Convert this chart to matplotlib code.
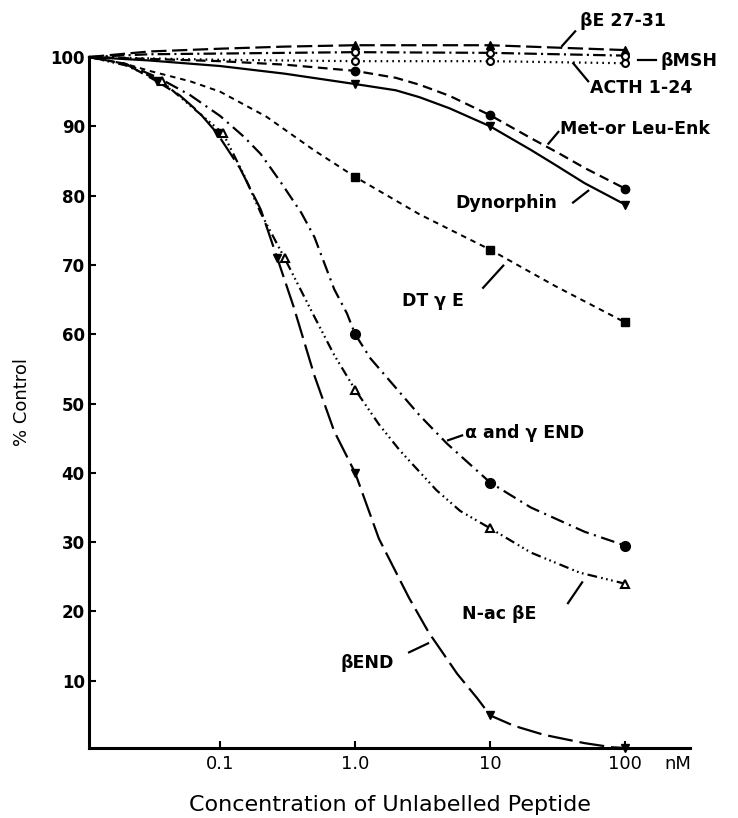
import numpy as np
import matplotlib
matplotlib.use("Agg")
import matplotlib.pyplot as plt

plt.rcParams['font.family'] = ['DejaVu Sans']
plt.rcParams['lines.scale_dashes'] = False

# curve traces (nM, % control)
be2731_x = [0.0107, 0.03, 0.1, 0.3, 1, 10, 100]
be2731_y = [100, 100.8, 101.2, 101.5, 101.7, 101.7, 101.0]
bmsh_x = [0.0107, 0.03, 0.1, 0.3, 1, 10, 100]
bmsh_y = [100, 100.4, 100.5, 100.6, 100.7, 100.6, 100.2]
acth_x = [0.0107, 0.03, 0.1, 0.3, 1, 10, 100]
acth_y = [100, 99.8, 99.6, 99.5, 99.4, 99.4, 99.1]
enk_x = [0.0107, 0.1, 0.3, 1, 2, 3, 5, 10, 20, 33, 50, 100]
enk_y = [100, 99.4, 98.9, 98, 97, 96, 94.4, 91.6, 88.3, 86, 84, 81]
dyn_x = [0.0107, 0.03, 0.1, 0.3, 1, 2, 3, 5, 10, 20, 30, 50, 100]
dyn_y = [100, 99.5, 98.7, 97.6, 96.1, 95.2, 94.2, 92.6, 90, 86.6, 84.5, 81.8, 78.7]
dtge_x = [0.0107, 0.02, 0.03, 0.06, 0.1, 0.22, 0.5, 1, 3, 10, 30, 100]
dtge_y = [100, 99, 98, 96.5, 95, 91.4, 86.5, 82.7, 77.3, 72.2, 67, 61.7]
ag_x = [0.0107, 0.02, 0.035, 0.06, 0.1, 0.15, 0.2, 0.28, 0.4, 0.5, 0.7, 0.87, 1,
        1.3, 1.82, 3, 4.8, 10, 20, 50, 100]
ag_y = [100, 99, 97, 94.5, 91.5, 88.5, 86, 82, 77.5, 74, 66.5, 63, 60,
        56.5, 53.2, 48.3, 44.2, 38.6, 35, 31.5, 29.5]
nac_x = [0.0107, 0.02, 0.037, 0.06, 0.105, 0.15, 0.2, 0.3, 0.5, 0.7, 1,
         1.5, 2.15, 4, 6, 10, 20, 46, 100]
nac_y = [100, 98.8, 96.5, 93, 89, 83, 77.5, 71, 62.5, 57, 52,
         47, 43.2, 37.5, 34.5, 32, 28.5, 25.6, 24]
bend_x = [0.0107, 0.02, 0.034, 0.05, 0.07, 0.095, 0.14, 0.2, 0.265, 0.35,
          0.5, 0.7, 1, 1.5, 2.5, 3.5, 5.7, 8, 10, 15, 25, 50, 80, 100]
bend_y = [100, 99, 96.5, 94.5, 92, 89, 84, 78, 71, 64,
          54, 46, 40, 30.5, 22, 17, 11, 7.5, 5, 3.5, 2.2, 1, 0.4, 0.3]

# measured points (markers)
pts_x = [1, 10, 100]
be2731_p = [101.7, 101.7, 101.0]
bmsh_p = [100.7, 100.6, 100.2]
acth_p = [99.4, 99.4, 99.1]
enk_p = [98, 91.6, 81]
dyn_p = [96.1, 90, 78.7]
dtge_p = [82.7, 72.2, 61.7]
ag_p = [60, 38.6, 29.5]
nac_px = [0.037, 0.105, 0.3, 1, 10, 100]
nac_p = [96.5, 89, 71, 52, 32, 24]
bend_px = [0.034, 0.095, 0.265, 1, 10, 100]
bend_p = [96.5, 89, 71, 40, 5, 0.3]

fig = plt.figure(figsize=(7.38, 8.18), dpi=100)
ax = fig.add_axes([0.1206, 0.0856, 0.8144, 0.8447])

lw = 1.6
k = 'black'
ax.plot(be2731_x, be2731_y, color=k, lw=lw, ls=(0, (11, 4)), clip_on=False)
ax.plot(bmsh_x, bmsh_y, color=k, lw=lw, ls=(0, (9, 3, 1.5, 3)), clip_on=False)
ax.plot(acth_x, acth_y, color=k, lw=lw, ls=(0, (1.2, 3)), clip_on=False)
ax.plot(enk_x, enk_y, color=k, lw=lw, ls=(0, (7, 4)), clip_on=False)
ax.plot(dyn_x, dyn_y, color=k, lw=lw, ls='-', clip_on=False)
ax.plot(dtge_x, dtge_y, color=k, lw=lw * 0.9, ls=(0, (4, 3.5)), clip_on=False)
ax.plot(ag_x, ag_y, color=k, lw=lw, ls=(0, (10, 4, 1.5, 4)), clip_on=False)
ax.plot(nac_x, nac_y, color=k, lw=lw, ls=(0, (7, 3, 1.2, 2.5, 1.2, 2.5, 1.2, 3)), clip_on=False)
ax.plot(bend_x, bend_y, color=k, lw=lw, ls=(0, (18, 5)), clip_on=False)

ms = 6
ax.plot(pts_x, be2731_p, '^', color=k, ms=ms, ls='none', clip_on=False)
ax.plot(pts_x, bmsh_p, 'o', mfc='white', mec=k, mew=1.5, ms=ms - 1, ls='none', clip_on=False)
ax.plot(pts_x, acth_p, 'o', mfc='white', mec=k, mew=1.5, ms=ms - 1, ls='none', clip_on=False)
ax.plot(pts_x, enk_p, 'o', color=k, ms=ms, ls='none', clip_on=False)
ax.plot(pts_x, dyn_p, 'v', color=k, ms=ms, ls='none', clip_on=False)
ax.plot(pts_x, dtge_p, 's', color=k, ms=ms, ls='none', clip_on=False)
ax.plot(pts_x, ag_p, 'o', color=k, ms=ms + 1, ls='none', clip_on=False)
ax.plot(nac_px, nac_p, '^', mfc='white', mec=k, mew=1.5, ms=ms, ls='none', clip_on=False)
ax.plot(bend_px, bend_p, 'v', color=k, ms=ms, ls='none', clip_on=False)

ax.set_xscale('log')
ax.set_xlim(0.0107, 302)
ax.set_ylim(0.3, 100)

ax.spines['top'].set_visible(False)
ax.spines['right'].set_visible(False)
ax.spines['left'].set_linewidth(2.2)
ax.spines['bottom'].set_linewidth(2.2)

ax.set_xticks([0.1, 1, 10, 100])
ax.set_xticklabels(['0.1', '1.0', '10', '100'], fontsize=13)
ax.xaxis.set_minor_locator(matplotlib.ticker.NullLocator())
ax.set_yticks([10, 20, 30, 40, 50, 60, 70, 80, 90, 100])
ax.set_yticklabels([str(v) for v in range(10, 101, 10)], fontsize=12, fontweight='bold')
ax.tick_params(direction='in', length=5, width=1.5, pad=5)
ax.tick_params(axis='y', pad=3)

ax.annotate('nM', xy=(195, 0), xycoords=('data', 'axes fraction'),
            xytext=(0, -5), textcoords='offset points',
            fontsize=13, ha='left', va='top')
ax.set_xlabel('Concentration of Unlabelled Peptide', fontsize=16, labelpad=16)
ax.set_ylabel('% Control', fontsize=13, labelpad=14)

fs = 12.5
def lab(txt, tx, ty, x0, y0, x1, y1):
    ax.text(tx, ty, txt, fontsize=fs, fontweight='bold', ha='left', va='center', clip_on=False)
    ax.plot([x0, x1], [y0, y1], color=k, lw=1.6, clip_on=False)

lab('\u03b2E 27-31', 46.4, 105.2, 34.1, 101.6, 42.6, 103.7)
lab('\u03b2MSH', 181.6, 99.4, 124.8, 99.6, 169.6, 99.6)
lab('ACTH 1-24', 55, 95.6, 41.2, 99.1, 53.2, 96.5)
lab('Met-or Leu-Enk', 33, 89.6, 27, 87.5, 32, 89.2)
lab('Dynorphin', 5.5, 79, 41.1, 79, 53.2, 80.7)
lab('DT \u03b3 E', 2.23, 64.8, 8.87, 66.7, 12.5, 69.9)
lab('\u03b1 and \u03b3 END', 6.53, 45.7, 4.88, 44.7, 6.2, 45.4)
lab('N-ac \u03b2E', 6.2, 19.7, 37.7, 21.2, 48, 24.2)
lab('\u03b2END', 0.774, 12.5, 2.51, 14.1, 3.47, 15.4)

fig.savefig('out.png', dpi=100)
